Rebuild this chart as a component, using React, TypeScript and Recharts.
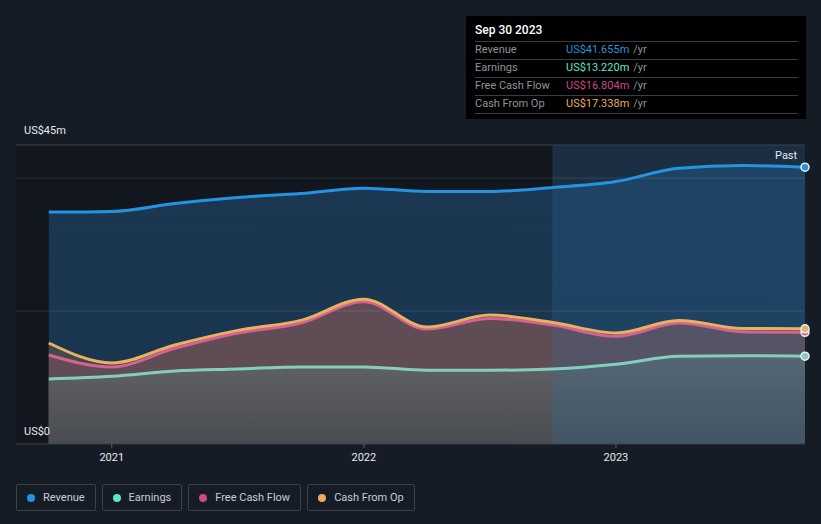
import React from 'react';
import { ComposedChart, Area, Line, XAxis, YAxis, ReferenceLine, ReferenceArea } from 'recharts';

// quarter ends, as decimal years (Sep 2020 .. Sep 2023)
const periods = [2020.75, 2021.0, 2021.25, 2021.5, 2021.75, 2022.0, 2022.25, 2022.5, 2022.75, 2023.0, 2023.25, 2023.5, 2023.75];
const revenue = [34.9, 35.0, 36.2, 37.1, 37.7, 38.5, 38.0, 38.0, 38.6, 39.5, 41.5, 41.9, 41.655];
const earnings = [9.8, 10.2, 11.0, 11.3, 11.6, 11.6, 11.1, 11.1, 11.3, 12.0, 13.2, 13.3, 13.22];
const freeCashFlow = [13.4, 11.6, 14.4, 16.7, 18.2, 21.4, 17.3, 18.9, 17.9, 16.2, 18.2, 16.9, 16.804];
const cashFromOp = [15.2, 12.2, 14.9, 17.1, 18.6, 21.8, 17.6, 19.4, 18.3, 16.7, 18.6, 17.4, 17.338];

const xTicks = [2021, 2022, 2023];
const gridValues = [20, 40];
const yTop = 45;
const xStart = 2020.62;
const xEnd = 2023.75;
const pastStart = 2022.75;

const series = [
  { key: 'revenue', name: 'Revenue', color: '#2394df', line: '#2394df', value: 'US$41.655m' },
  { key: 'earnings', name: 'Earnings', color: '#5fe3c9', line: '#84cfb9', value: 'US$13.220m' },
  { key: 'fcf', name: 'Free Cash Flow', color: '#d1478a', line: '#d5628f', value: 'US$16.804m' },
  { key: 'cfo', name: 'Cash From Op', color: '#e9ad5b', line: '#e8b160', value: 'US$17.338m' },
];

const data = periods.map((t, i) => ({
  t,
  revenue: revenue[i],
  earnings: earnings[i],
  fcf: freeCashFlow[i],
  cfo: cashFromOp[i],
}));

const FONT = 'Roboto, "Noto Sans", sans-serif';

function endDot(color: string) {
  return (props: any) => {
    const { cx, cy, index } = props;
    if (index !== data.length - 1) return <g key={index} />;
    return <circle key={index} cx={cx} cy={cy} r={4} fill={color} stroke="#e8eef5" strokeWidth={1.5} />;
  };
}

export default function App() {
  return (
    <div
      style={{
        position: 'absolute',
        left: 0,
        top: 0,
        width: 821,
        height: 524,
        background: '#161c26',
        fontFamily: FONT,
        overflow: 'hidden',
      }}
    >
      <ComposedChart
        width={821}
        height={480}
        data={data}
        margin={{ top: 145, right: 16, left: 16, bottom: 6 }}
      >
        <defs>
          <linearGradient id="revFill" x1="0" y1="0" x2="0" y2="1">
            <stop offset="0%" stopColor="#1b3752" />
            <stop offset="100%" stopColor="#1a344e" />
          </linearGradient>
          <linearGradient id="earnFill" x1="0" y1="0" x2="0" y2="1">
            <stop offset="0%" stopColor="#616365" />
            <stop offset="100%" stopColor="#494c52" />
          </linearGradient>
        </defs>
        <XAxis
          dataKey="t"
          type="number"
          domain={[xStart, xEnd]}
          ticks={xTicks}
          tickFormatter={(v) => String(v)}
          axisLine={{ stroke: '#3a404a' }}
          tickLine={{ stroke: '#5a6068' }}
          tickSize={4}
          tickMargin={5}
          tick={{ fill: '#e6e8eb', fontSize: 11, fontFamily: FONT }}
          height={30}
        />
        <YAxis hide domain={[0, yTop]} />
        <ReferenceArea x1={xStart} x2={pastStart} y1={0} y2={yTop} fill="#0b0f15" fillOpacity={0.35} />
        <Area dataKey="revenue" type="monotone" stroke="none" fill="url(#revFill)" fillOpacity={1} isAnimationActive={false} />
        <Area dataKey="cfo" type="monotone" stroke="none" fill="#404a4b" fillOpacity={1} isAnimationActive={false} />
        <Area dataKey="fcf" type="monotone" stroke="none" fill="#5f4c54" fillOpacity={1} isAnimationActive={false} />
        <Area dataKey="earnings" type="monotone" stroke="none" fill="url(#earnFill)" fillOpacity={1} isAnimationActive={false} />
        <ReferenceArea x1={pastStart} x2={xEnd} y1={0} y2={yTop} fill="#2f72a8" fillOpacity={0.22} />
        {gridValues.map((v) => (
          <ReferenceLine key={v} y={v} stroke="#ffffff" strokeOpacity={0.07} strokeWidth={1.5} />
        ))}
        <ReferenceLine y={yTop} stroke="#3b4049" />
        <ReferenceLine x={pastStart} stroke="#4a6a88" strokeOpacity={0.25} />
        {series.map((s) => (
          <Line
            key={s.key}
            dataKey={s.key}
            type="monotone"
            stroke={s.line}
            strokeWidth={3}
            dot={endDot(s.line)}
            activeDot={false}
            isAnimationActive={false}
          />
        ))}
      </ComposedChart>

      <div style={{ position: 'absolute', left: 24, top: 124, color: '#e6e8eb', fontSize: 11 }}>US$45m</div>
      <div style={{ position: 'absolute', left: 24, top: 425, color: '#e6e8eb', fontSize: 11 }}>US$0</div>
      <div style={{ position: 'absolute', left: 775, top: 149, color: '#e6e8eb', fontSize: 11 }}>Past</div>

      <div
        style={{
          position: 'absolute',
          left: 466,
          top: 16,
          width: 340,
          height: 103,
          background: '#000',
          boxSizing: 'border-box',
          padding: '0 8px 0 9px',
        }}
      >
        <div style={{ color: '#fff', fontSize: 12, fontWeight: 500, height: 25, lineHeight: '29px' }}>Sep 30 2023</div>
        {series.map((s) => (
          <div
            key={s.key}
            style={{
              display: 'flex',
              borderTop: '1px solid #3a3d42',
              height: 17,
              lineHeight: '16px',
              fontSize: 11,
            }}
          >
            <span style={{ width: 91, color: '#8f9399' }}>{s.name}</span>
            <span style={{ color: s.color }}>{s.value}</span>
            <span style={{ color: '#8f9399', marginLeft: 4 }}>/yr</span>
          </div>
        ))}
        <div style={{ borderTop: '1px solid #3a3d42' }} />
      </div>

      <div style={{ position: 'absolute', left: 16, top: 484, display: 'flex', gap: 6 }}>
        {series.map((s) => (
          <div
            key={s.key}
            style={{
              height: 27,
              boxSizing: 'border-box',
              border: '1px solid #3a3f48',
              borderRadius: 2,
              display: 'flex',
              alignItems: 'center',
              padding: '0 10px 0 10px',
              color: '#c9ccd1',
              fontSize: 11,
            }}
          >
            <span
              style={{
                width: 8,
                height: 8,
                borderRadius: 4,
                background: s.color,
                display: 'inline-block',
                marginRight: 8,
              }}
            />
            {s.name}
          </div>
        ))}
      </div>
    </div>
  );
}
